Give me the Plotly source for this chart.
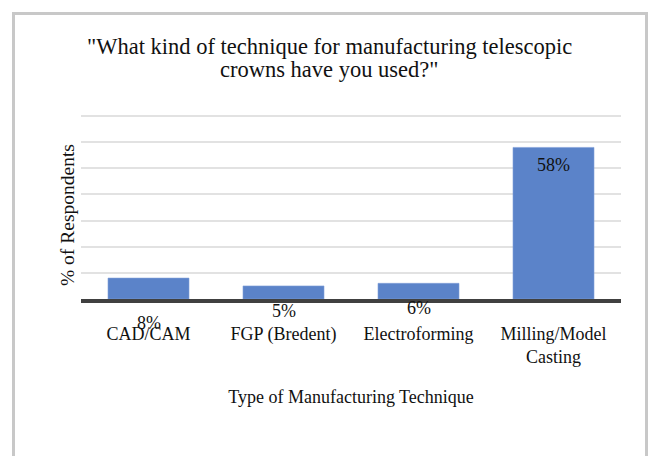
import plotly.graph_objects as go

# Survey results: share of respondents per manufacturing technique
techniques = ["CAD/CAM", "FGP (Bredent)", "Electroforming", "Milling/Model<br>Casting"]
percent = [8, 5, 6, 58]
value_labels = [f"{v}%" for v in percent]
# vertical pixel shift of each value label relative to its anchor
label_anchor = ["base", "base", "base", "top"]
label_shift = [-24, -12, -9, -18]

title_lines = ["\"What kind of technique for manufacturing telescopic", "crowns have you used?\""]
title_line_px = [46, 70]

serif = "Liberation Serif"
W, H = 649, 456
ML, MR, MT, MB = 81, 28, 115, 157
PW, PH = W - ML - MR, H - MT - MB

fig = go.Figure(
    go.Bar(
        x=techniques,
        y=percent,
        marker=dict(color="#5b83c9", line=dict(color="#7fa0d8", width=0.6)),
        width=0.6,
        hoverinfo="skip",
    )
)

annotations = []
for cat, val, txt, anc, sh in zip(techniques, percent, value_labels, label_anchor, label_shift):
    annotations.append(dict(
        x=cat, y=(0 if anc == "base" else val), xref="x", yref="y",
        text=txt, showarrow=False, yanchor="middle", yshift=sh,
        font=dict(family=serif, size=18, color="#111111"),
    ))

# chart title, one line per annotation for tight line spacing
for line, ypx in zip(title_lines, title_line_px):
    annotations.append(dict(
        x=(329.5 - ML) / PW, y=(H - MB - ypx) / PH, xref="paper", yref="paper",
        text=line, showarrow=False, xanchor="center", yanchor="middle",
        font=dict(family=serif, size=22.5, color="#111111"),
    ))

# y-axis title, drawn as rotated text
annotations.append(dict(
    x=(67 - ML) / PW, y=(H - MB - 215) / PH,
    xref="paper", yref="paper", text="% of Respondents", textangle=-90,
    showarrow=False, xanchor="center", yanchor="middle",
    font=dict(family=serif, size=19.5, color="#111111"),
))

fig.update_layout(
    width=W, height=H,
    margin=dict(l=ML, r=MR, t=MT, b=MB),
    paper_bgcolor="white", plot_bgcolor="white",
    showlegend=False,
    xaxis=dict(
        showline=True, linecolor="#404040", linewidth=4,
        showgrid=False, ticks="", ticklabelstandoff=15,
        tickfont=dict(family=serif, size=18, color="#111111"),
        title=dict(text="Type of Manufacturing Technique", standoff=25,
                   font=dict(family=serif, size=18, color="#111111")),
    ),
    yaxis=dict(
        range=[0, 70.4], dtick=10, showticklabels=False, ticks="",
        showgrid=True, gridcolor="#e2e2e2", gridwidth=2,
        zeroline=False, showline=False,
    ),
    annotations=annotations,
    shapes=[dict(
        type="rect", xref="paper", yref="paper",
        xsizemode="pixel", ysizemode="pixel", xanchor=0, yanchor=0,
        x0=13.5 - ML, x1=646.5 - ML, y0=-(470 - (H - MB)), y1=(H - MB) - 13.5,
        line=dict(color="#c8c8c8", width=3), fillcolor="rgba(0,0,0,0)",
        layer="below",
    )],
)

fig.write_html("out.html")
